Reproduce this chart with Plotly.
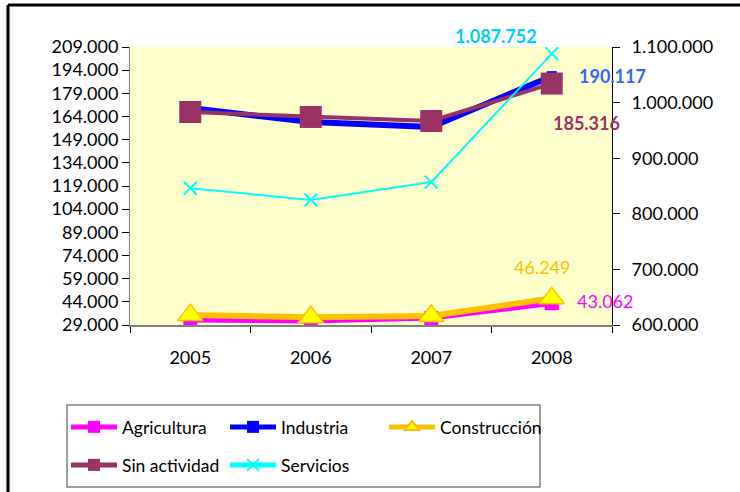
import plotly.graph_objects as go

years = ["2005", "2006", "2007", "2008"]
agricultura = [32200, 31600, 33500, 43062]
industria = [169500, 160400, 157200, 190117]
construccion = [35400, 34000, 34800, 46249]
sin_actividad = [166900, 163700, 161100, 185316]
servicios = [846000, 825000, 857000, 1087752]

left_ticks = list(range(29000, 209001, 15000))
right_ticks = list(range(600000, 1100001, 100000))

def fmt(v):
    return f"{v:,}".replace(",", ".")

FONT = "Lato"
FS = 18
W, H = 740, 492
L, R, T, B = 130, 740 - 612, 47, 492 - 325
pw, ph = W - L - R, H - T - B

fig = go.Figure()
fig.add_trace(go.Scatter(x=years, y=agricultura, name="Agricultura", mode="lines+markers",
                         line=dict(color="#FF00FF", width=5),
                         marker=dict(symbol="square", size=14, color="#FF00FF"), legend="legend"))
fig.add_trace(go.Scatter(x=years, y=industria, name="Industria", mode="lines+markers",
                         line=dict(color="#0000FF", width=6),
                         marker=dict(symbol="square", size=10, color="#0000FF"), legend="legend"))
fig.add_trace(go.Scatter(x=years, y=construccion, name="Construcción", mode="lines+markers",
                         line=dict(color="#FFC000", width=6),
                         marker=dict(symbol="triangle-up", size=22, color="#FFFF00",
                                     line=dict(color="#FFC000", width=1.5)), legend="legend"))
fig.add_trace(go.Scatter(x=years, y=sin_actividad, name="Sin actividad", mode="lines+markers",
                         line=dict(color="#993366", width=4),
                         marker=dict(symbol="square", size=22, color="#993366"), legend="legend2"))
fig.add_trace(go.Scatter(x=years, y=servicios, name="Servicios", mode="lines+markers", yaxis="y2",
                         line=dict(color="#00FFFF", width=2),
                         marker=dict(symbol="x-thin", size=13, color="#00FFFF",
                                     line=dict(color="#00FFFF", width=2)), legend="legend2"))

last = len(years) - 1
ann = [
    dict(y=servicios[last], yref="y2", text=f"<b>{fmt(servicios[last])}</b>",
         font=dict(color="#00CCFF", size=FS, family=FONT), xshift=-56, yshift=18),
    dict(y=industria[last], yref="y", text=f"<b>{fmt(industria[last])}</b>",
         font=dict(color="#3366FF", size=FS, family=FONT), xshift=61, yshift=0),
    dict(y=sin_actividad[last], yref="y", text=f"<b>{fmt(sin_actividad[last])}</b>",
         font=dict(color="#993366", size=FS, family=FONT), xshift=35, yshift=-39),
    dict(y=construccion[last], yref="y", text=fmt(construccion[last]),
         font=dict(color="#FFC000", size=FS, family=FONT), xshift=-10, yshift=31),
    dict(y=agricultura[last], yref="y", text=fmt(agricultura[last]),
         font=dict(color="#FF00FF", size=FS, family=FONT), xshift=53, yshift=2),
]
for a in ann:
    a["x"] = last
    a["xref"] = "x"
    a["showarrow"] = False
    a["xanchor"] = "center"
    a["yanchor"] = "middle"

def px_x(p):
    return (p - L) / pw

def px_y(p):
    return (H - B - p) / ph

shapes = [
    dict(type="line", xref="paper", yref="paper", x0=px_x(8), x1=px_x(8), y0=px_y(5), y1=px_y(492),
         line=dict(color="black", width=3)),
    dict(type="line", xref="paper", yref="paper", x0=px_x(8), x1=px_x(740), y0=px_y(5), y1=px_y(5),
         line=dict(color="black", width=3)),
    dict(type="rect", xref="paper", yref="paper", x0=px_x(67), x1=px_x(540), y0=px_y(405), y1=px_y(487),
         line=dict(color="#808080", width=1.5), fillcolor="rgba(0,0,0,0)"),
]

legend_common = dict(orientation="h", xanchor="left", yanchor="top",
                     entrywidth=98, entrywidthmode="pixels", itemwidth=46,
                     bgcolor="rgba(0,0,0,0)", font=dict(size=17.5), itemsizing="constant")

fig.update_layout(
    width=W, height=H,
    margin=dict(l=L, r=R, t=T, b=B, autoexpand=False),
    paper_bgcolor="white", plot_bgcolor="#FFFFCC",
    font=dict(family=FONT, size=FS, color="black"),
    xaxis=dict(type="category", tickson="boundaries", ticks="outside", ticklen=6, tickcolor="black",
               showline=True, linecolor="#808080", linewidth=1.5, showgrid=False, automargin=False,
               tickfont=dict(size=FS), range=[-0.5, 3.5], ticklabelstandoff=16),
    yaxis=dict(range=[29000, 209000], tickvals=left_ticks, ticktext=[fmt(v) for v in left_ticks],
               ticks="outside", ticklen=7, tickcolor="black", showline=True, linecolor="#808080",
               linewidth=1, showgrid=False, zeroline=False, tickfont=dict(size=FS), automargin=False),
    yaxis2=dict(range=[600000, 1100000], overlaying="y", side="right",
                tickvals=right_ticks, ticktext=[fmt(v) for v in right_ticks],
                ticks="outside", ticklen=7, tickcolor="black", showline=True, linecolor="black",
                linewidth=1, showgrid=False, zeroline=False, tickfont=dict(size=FS),
                automargin=False, ticklabelstandoff=8),
    legend=dict(x=px_x(66), y=px_y(409), **legend_common),
    legend2=dict(x=px_x(66), y=px_y(447), **legend_common),
    annotations=ann,
    shapes=shapes,
)

fig.write_html("out.html", config={"displayModeBar": False},
               post_script="document.body.style.margin='0';")
